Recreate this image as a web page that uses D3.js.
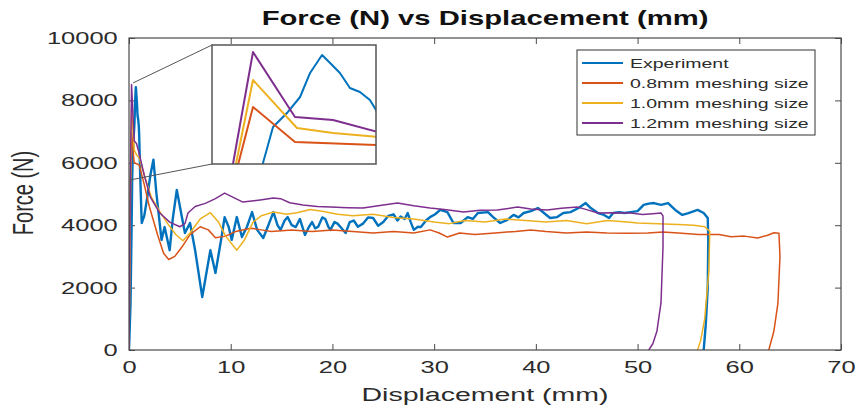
<!DOCTYPE html>
<html>
<head>
<meta charset="utf-8">
<script src="https://cdn.jsdelivr.net/npm/d3@7"></script>
<style>
body { margin: 0; background: #fff; }
svg { display: block; font-family: 'Liberation Sans', Arial, sans-serif; }
</style>
</head>
<body>
<svg id="chart"></svg>
<script>
const size = {w: 859, h: 413};
const margin = {t: 38, r: 18, b: 63, l: 129};
const sx = 1.5; // the source picture is stretched sideways, so is the text

const xTicks = [0, 10, 20, 30, 40, 50, 60, 70];
const yTicks = [0, 2000, 4000, 6000, 8000, 10000];
const seriesNames = ['Experiment', '0.8mm meshing size', '1.0mm meshing size', '1.2mm meshing size'];
const seriesColors = ['#0072bd', '#d95319', '#edb120', '#7e2f8e'];

// [displacement mm, force N]
const experiment = [[0,0],[0.15,1500],[0.25,3800],[0.311,5428],[0.372,6426],[0.457,6814],[0.537,7258],[0.598,7924],[0.671,8423],[0.72,8201],[0.78,7924],[0.841,7508],[0.902,7397],[0.963,7175],[1.0,6898],[1.1,5600],[1.25,4070],[1.5,4300],[1.8,4900],[2.1,5600],[2.4,6100],[2.7,5000],[3.2,3530],[3.5,3940],[4.0,3200],[4.3,4200],[4.7,5130],[5.2,4260],[5.5,3750],[6.0,4070],[6.5,3200],[7.2,1700],[8.0,3200],[8.5,2470],[9.1,3620],[9.4,4260],[9.8,3940],[10.1,3530],[10.6,4260],[11.1,3620],[11.6,3950],[12.1,4420],[12.6,3850],[13.2,3590],[13.7,4000],[14.2,4420],[14.6,4000],[14.9,3850],[15.3,4150],[15.6,4260],[16.0,4000],[16.4,3940],[16.8,4200],[17.3,3690],[17.7,3950],[18.0,4100],[18.3,3900],[18.6,3950],[19.0,4250],[19.3,4200],[19.6,3950],[19.8,3850],[20.2,4100],[20.5,4050],[20.9,3900],[21.3,3750],[21.7,4100],[22.1,4150],[22.5,3950],[23.0,4050],[23.5,4250],[24.0,4230],[24.5,3980],[25.0,4100],[25.5,4300],[26.0,4350],[26.4,4150],[26.7,4280],[27.1,4200],[27.4,4390],[27.7,4100],[28.0,3850],[28.4,3950],[28.7,3940],[29.2,4150],[29.6,4260],[30.1,4350],[30.6,4490],[31.3,4420],[31.9,4070],[32.6,4070],[33.3,4260],[33.8,4200],[34.3,4390],[35.3,4420],[35.8,4260],[36.5,4070],[37.2,4170],[37.8,4330],[38.3,4250],[38.8,4390],[39.5,4450],[40.2,4550],[40.8,4390],[41.4,4230],[42.1,4260],[42.7,4390],[43.4,4420],[44.2,4550],[44.9,4710],[45.4,4550],[46.1,4390],[46.7,4330],[47.2,4230],[47.6,4390],[48.2,4420],[48.7,4390],[49.3,4420],[50.0,4450],[50.6,4650],[51.1,4690],[51.6,4710],[52.3,4650],[53.0,4710],[53.7,4490],[54.4,4330],[55.0,4390],[55.9,4490],[56.5,4390],[56.9,4230],[56.95,3500],[56.9,2000],[56.7,800],[56.5,0]];

const mesh08 = [[0,0],[0.16,5400],[0.25,6981],[0.506,6010],[1.01,5927],[1.5,5300],[2.0,4600],[2.8,3700],[3.4,3100],[3.9,2900],[4.5,3000],[5.2,3300],[6.0,3700],[7.0,3950],[7.8,3850],[8.5,3600],[9.5,3650],[10.5,3800],[12,3900],[13,3850],[14,3800],[16,3850],[18,3800],[20,3850],[22,3800],[24,3750],[26,3800],[28,3750],[29.6,3850],[30.5,3750],[31.3,3620],[32.5,3750],[34,3700],[36,3750],[38,3800],[39.5,3850],[41,3800],[43,3750],[45,3780],[47,3750],[49,3740],[51,3750],[52.5,3780],[54,3750],[56,3700],[58,3700],[59.2,3630],[60.5,3650],[61.8,3590],[62.8,3680],[63.4,3760],[63.9,3740],[64.0,3000],[63.8,1500],[63.4,600],[62.9,0]];

const mesh10 = [[0,0],[0.146,5400],[0.25,7729],[0.518,6399],[0.738,6260],[1.01,6149],[1.6,5500],[2.2,4900],[3.0,4450],[3.8,4050],[4.6,3700],[5.3,3500],[6.0,3750],[7.0,4200],[8.0,4400],[8.8,4100],[9.5,3650],[10.6,3200],[11.3,3500],[12.2,4100],[13,4300],[14.2,4420],[15.5,4350],[16.5,4400],[17.8,4500],[19,4450],[20.5,4350],[22,4300],[24,4350],[26,4250],[28,4200],[30,4100],[31.5,4050],[33,4150],[35,4100],[37,4200],[39,4150],[41,4100],[43,4150],[45,4050],[47,4150],[49,4100],[50,4070],[52,4050],[54,4020],[55.5,4000],[56.6,3950],[57.1,3800],[57.0,2500],[56.6,1000],[56.2,300],[55.9,0]];

const mesh12 = [[0,0],[0.128,5400],[0.25,8506],[0.506,6703],[0.738,6620],[1.01,6287],[1.5,5600],[2.1,4900],[3.0,4400],[4.0,4100],[5.0,3950],[5.5,4050],[5.8,4390],[6.5,4600],[7.5,4700],[8.5,4850],[9.4,5030],[10.2,4900],[11.2,4740],[12.9,4810],[14.2,4870],[14.9,4850],[15.8,4720],[17.1,4650],[18.5,4600],[19.8,4580],[21.5,4560],[23,4550],[24.5,4620],[26.4,4710],[28,4620],[29.6,4550],[31,4500],[32.9,4420],[34.5,4480],[36.2,4490],[38.2,4580],[39.5,4520],[41.1,4490],[42.5,4540],[44.1,4580],[45,4500],[46.1,4390],[47.5,4400],[49.3,4390],[50.5,4340],[51.5,4370],[52.3,4390],[52.5,4300],[52.5,3300],[52.3,1500],[51.9,600],[51.5,200],[51.1,0]];

const series = [experiment, mesh08, mesh10, mesh12];
const seriesWidths = [2.4, 1.5, 1.5, 1.5];

// magnified window
const insetDomainX = [0, 1];
const insetDomainY = [5400, 8700];
const zoomLinks = [[0.4, 8560], [0.1, 5450]];
const inset = {x: 212, y: 45, w: 164, h: 119};

const svg = d3.select('svg#chart')
    .attr('width', size.w)
    .attr('height', size.h);

const x = d3.scaleLinear().domain([0, 70]).range([margin.l, size.w - margin.r]);
const y = d3.scaleLinear().domain([0, 10000]).range([size.h - margin.b, margin.t]);

const axisColor = '#4a4a4a';
const textColor = '#2b2b2b';

function styleAxis(g) {
    g.attr('font-size', null).attr('font-family', null).attr('color', axisColor);
    g.select('.domain').remove();
    g.selectAll('.tick line').attr('stroke-width', 1);
    g.selectAll('text')
        .attr('fill', textColor)
        .style('font-size', '17px')
        .attr('transform', `scale(${sx},1)`);
}

// axes, ticks point inward like matlab
svg.append('g')
    .attr('transform', `translate(0, ${y(0)})`)
    .call(d3.axisBottom(x).tickValues(xTicks).tickSizeInner(-6).tickSizeOuter(0).tickPadding(11))
    .call(styleAxis);

svg.append('g')
    .attr('transform', `translate(${x(0)}, 0)`)
    .call(d3.axisLeft(y).tickValues(yTicks).tickFormat(d3.format('d')).tickSizeInner(-6).tickSizeOuter(0).tickPadding(7.5))
    .call(styleAxis);

svg.append('g')
    .attr('transform', `translate(0, ${y(10000)})`)
    .call(d3.axisTop(x).tickValues(xTicks).tickSizeInner(-6).tickSizeOuter(0).tickFormat(''))
    .call(styleAxis);

svg.append('g')
    .attr('transform', `translate(${x(70)}, 0)`)
    .call(d3.axisRight(y).tickValues(yTicks).tickSizeInner(-6).tickSizeOuter(0).tickFormat(''))
    .call(styleAxis);

svg.append('clipPath').attr('id', 'plotClip')
    .append('rect')
    .attr('x', x(0)).attr('y', y(10000))
    .attr('width', x(70) - x(0)).attr('height', y(0) - y(10000));

let line = d3.line()
    .x(d => x(d[0]))
    .y(d => y(d[1]));

svg.append('g')
    .classed('lines', true)
    .attr('clip-path', 'url(#plotClip)')
    .selectAll('path')
    .data(series)
    .join('path')
    .attr('fill', 'none')
    .attr('stroke', (d, i) => seriesColors[i])
    .attr('stroke-width', (d, i) => seriesWidths[i])
    .attr('stroke-linejoin', 'round')
    .attr('d', line);

// frame
svg.append('rect')
    .attr('x', x(0)).attr('y', y(10000))
    .attr('width', x(70) - x(0)).attr('height', y(0) - y(10000))
    .attr('fill', 'none')
    .attr('stroke', axisColor)
    .attr('stroke-width', 1.2);

// zoom connectors
svg.append('g')
    .selectAll('line')
    .data(zoomLinks)
    .join('line')
    .attr('x1', inset.x)
    .attr('y1', (d, i) => i === 0 ? inset.y : inset.y + inset.h)
    .attr('x2', d => x(d[0]))
    .attr('y2', d => y(d[1]))
    .attr('stroke', '#555')
    .attr('stroke-width', 1);

// inset
const ix = d3.scaleLinear().domain(insetDomainX).range([inset.x, inset.x + inset.w]);
const iy = d3.scaleLinear().domain(insetDomainY).range([inset.y + inset.h, inset.y]);

svg.append('clipPath').attr('id', 'insetClip')
    .append('rect')
    .attr('x', inset.x).attr('y', inset.y)
    .attr('width', inset.w).attr('height', inset.h);

svg.append('rect')
    .attr('x', inset.x).attr('y', inset.y)
    .attr('width', inset.w).attr('height', inset.h)
    .attr('fill', '#fff');

let insetLine = d3.line()
    .x(d => ix(d[0]))
    .y(d => iy(d[1]));

svg.append('g')
    .attr('clip-path', 'url(#insetClip)')
    .selectAll('path')
    .data(series)
    .join('path')
    .attr('fill', 'none')
    .attr('stroke', (d, i) => seriesColors[i])
    .attr('stroke-width', 2)
    .attr('stroke-linejoin', 'round')
    .attr('d', insetLine);

svg.append('rect')
    .attr('x', inset.x).attr('y', inset.y)
    .attr('width', inset.w).attr('height', inset.h)
    .attr('fill', 'none')
    .attr('stroke', '#555')
    .attr('stroke-width', 1.5);

// legend
const legend = svg.append('g').attr('transform', 'translate(577, 50)');
legend.append('rect')
    .attr('width', 238).attr('height', 85)
    .attr('fill', '#fff')
    .attr('stroke', '#333')
    .attr('stroke-width', 1);

const rows = legend.selectAll('g.row')
    .data(seriesNames)
    .join('g')
    .classed('row', true)
    .attr('transform', (d, i) => `translate(0, ${13 + i * 20})`);

rows.append('line')
    .attr('x1', 5).attr('x2', 46)
    .attr('stroke', (d, i) => seriesColors[i])
    .attr('stroke-width', 2);

rows.append('text')
    .attr('transform', `translate(53, 0) scale(${sx},1)`)
    .attr('dy', '0.35em')
    .style('font-size', '13px')
    .attr('fill', textColor)
    .text(d => d);

// titles
svg.append('text')
    .attr('transform', `translate(${(x(0) + x(70)) / 2}, 25) scale(${sx},1)`)
    .attr('text-anchor', 'middle')
    .style('font-size', '19.5px')
    .style('font-weight', 'bold')
    .attr('fill', '#111')
    .text('Force (N) vs Displacement (mm)');

svg.append('text')
    .attr('transform', `translate(${(x(0) + x(70)) / 2}, 401) scale(${sx},1)`)
    .attr('text-anchor', 'middle')
    .style('font-size', '19px')
    .attr('fill', textColor)
    .text('Displacement (mm)');

svg.append('text')
    .attr('transform', `translate(33, 193) rotate(-90) scale(1,${sx})`)
    .attr('text-anchor', 'middle')
    .style('font-size', '20px')
    .attr('fill', textColor)
    .text('Force (N)');
</script>
</body>
</html>
